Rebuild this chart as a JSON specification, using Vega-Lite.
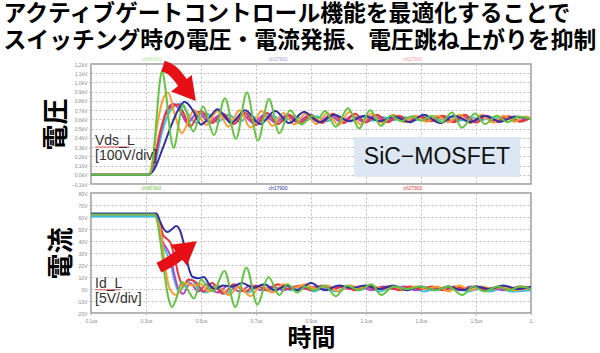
{
"$schema": "https://vega.github.io/schema/vega-lite/v6.json",
"background": "white",
"padding": {"left": 3, "top": 3, "right": 0, "bottom": 0},
"title": {"text": ["アクティブゲートコントロール機能を最適化することで", "スイッチング時の電圧・電流発振、電圧跳ね上がりを抑制"], "anchor": "start", "font": "Noto Sans CJK JP", "fontSize": 22.8, "fontWeight": "bold", "lineHeight": 27, "color": "#000000", "offset": -10, "dx": -39},
"bounds": "flush",
"spacing": 9,
"config": {
  "view": {"stroke": "#9a9a9a", "strokeWidth": 1.5},
  "axis": {"labelFont": "Liberation Sans", "labelFontSize": 5, "labelColor": "#8a8a8a", "tickColor": "#bbbbbb", "tickSize": 2, "gridColor": "#bdbdbd", "gridDash": [2, 2], "gridWidth": 1, "gridOpacity": 1, "domain": false, "labelPadding": 2, "labelOverlap": false, "labelFlush": false, "titleFont": "Noto Sans CJK JP", "titleFontWeight": "bold", "titleColor": "#000000"}
},
"datasets": {
"v": [
{"s":"c","t":0.1,"y":0},{"s":"c","t":0.31,"y":0},{"s":"c","t":0.33,"y":100},{"s":"c","t":0.36,"y":480},{"s":"c","t":0.39,"y":700},{"s":"c","t":0.425,"y":770},{"s":"c","t":0.455,"y":650},{"s":"c","t":0.48,"y":565},{"s":"c","t":0.52,"y":665},{"s":"c","t":0.56,"y":575},{"s":"c","t":0.6,"y":650},{"s":"c","t":0.64,"y":575},{"s":"c","t":0.68,"y":645},{"s":"c","t":0.72,"y":580},{"s":"c","t":0.76,"y":640},{"s":"c","t":0.8,"y":580},{"s":"c","t":0.84,"y":635},{"s":"c","t":0.88,"y":585},{"s":"c","t":0.92,"y":635},{"s":"c","t":0.96,"y":580},{"s":"c","t":1.0,"y":630},{"s":"c","t":1.04,"y":585},{"s":"c","t":1.08,"y":630},{"s":"c","t":1.12,"y":585},{"s":"c","t":1.16,"y":625},{"s":"c","t":1.2,"y":590},{"s":"c","t":1.24,"y":625},{"s":"c","t":1.28,"y":590},{"s":"c","t":1.32,"y":625},{"s":"c","t":1.36,"y":585},{"s":"c","t":1.4,"y":630},{"s":"c","t":1.44,"y":585},{"s":"c","t":1.48,"y":625},{"s":"c","t":1.52,"y":590},{"s":"c","t":1.56,"y":625},{"s":"c","t":1.6,"y":590},{"s":"c","t":1.64,"y":620},{"s":"c","t":1.7,"y":605},
{"s":"m","t":0.1,"y":0},{"s":"m","t":0.31,"y":0},{"s":"m","t":0.328,"y":100},{"s":"m","t":0.352,"y":450},{"s":"m","t":0.375,"y":700},{"s":"m","t":0.4,"y":770},{"s":"m","t":0.425,"y":690},{"s":"m","t":0.45,"y":560},{"s":"m","t":0.49,"y":680},{"s":"m","t":0.53,"y":570},{"s":"m","t":0.57,"y":650},{"s":"m","t":0.61,"y":565},{"s":"m","t":0.65,"y":655},{"s":"m","t":0.69,"y":560},{"s":"m","t":0.73,"y":650},{"s":"m","t":0.77,"y":565},{"s":"m","t":0.81,"y":645},{"s":"m","t":0.85,"y":570},{"s":"m","t":0.89,"y":640},{"s":"m","t":0.93,"y":575},{"s":"m","t":0.97,"y":645},{"s":"m","t":1.01,"y":570},{"s":"m","t":1.05,"y":640},{"s":"m","t":1.09,"y":575},{"s":"m","t":1.13,"y":640},{"s":"m","t":1.17,"y":575},{"s":"m","t":1.21,"y":635},{"s":"m","t":1.25,"y":580},{"s":"m","t":1.29,"y":630},{"s":"m","t":1.33,"y":580},{"s":"m","t":1.37,"y":635},{"s":"m","t":1.41,"y":575},{"s":"m","t":1.45,"y":640},{"s":"m","t":1.49,"y":575},{"s":"m","t":1.53,"y":635},{"s":"m","t":1.57,"y":580},{"s":"m","t":1.61,"y":630},{"s":"m","t":1.65,"y":585},{"s":"m","t":1.7,"y":615},
{"s":"r","t":0.1,"y":0},{"s":"r","t":0.31,"y":0},{"s":"r","t":0.325,"y":100},{"s":"r","t":0.35,"y":450},{"s":"r","t":0.375,"y":680},{"s":"r","t":0.395,"y":745},{"s":"r","t":0.415,"y":760},{"s":"r","t":0.435,"y":680},{"s":"r","t":0.46,"y":520},{"s":"r","t":0.5,"y":690},{"s":"r","t":0.54,"y":560},{"s":"r","t":0.58,"y":660},{"s":"r","t":0.62,"y":550},{"s":"r","t":0.66,"y":670},{"s":"r","t":0.7,"y":540},{"s":"r","t":0.74,"y":670},{"s":"r","t":0.78,"y":550},{"s":"r","t":0.82,"y":650},{"s":"r","t":0.86,"y":560},{"s":"r","t":0.9,"y":650},{"s":"r","t":0.94,"y":560},{"s":"r","t":0.98,"y":660},{"s":"r","t":1.02,"y":560},{"s":"r","t":1.06,"y":660},{"s":"r","t":1.1,"y":565},{"s":"r","t":1.14,"y":650},{"s":"r","t":1.18,"y":570},{"s":"r","t":1.22,"y":640},{"s":"r","t":1.26,"y":575},{"s":"r","t":1.3,"y":630},{"s":"r","t":1.34,"y":580},{"s":"r","t":1.38,"y":640},{"s":"r","t":1.42,"y":570},{"s":"r","t":1.46,"y":650},{"s":"r","t":1.5,"y":565},{"s":"r","t":1.54,"y":640},{"s":"r","t":1.58,"y":570},{"s":"r","t":1.62,"y":635},{"s":"r","t":1.66,"y":575},{"s":"r","t":1.7,"y":620},
{"s":"o","t":0.1,"y":0},{"s":"o","t":0.31,"y":0},{"s":"o","t":0.322,"y":120},{"s":"o","t":0.34,"y":520},{"s":"o","t":0.36,"y":800},{"s":"o","t":0.38,"y":890},{"s":"o","t":0.405,"y":650},{"s":"o","t":0.43,"y":450},{"s":"o","t":0.475,"y":700},{"s":"o","t":0.52,"y":540},{"s":"o","t":0.56,"y":690},{"s":"o","t":0.6,"y":520},{"s":"o","t":0.64,"y":700},{"s":"o","t":0.68,"y":510},{"s":"o","t":0.72,"y":690},{"s":"o","t":0.76,"y":530},{"s":"o","t":0.8,"y":670},{"s":"o","t":0.84,"y":545},{"s":"o","t":0.88,"y":660},{"s":"o","t":0.92,"y":550},{"s":"o","t":0.96,"y":670},{"s":"o","t":1.0,"y":540},{"s":"o","t":1.04,"y":680},{"s":"o","t":1.08,"y":545},{"s":"o","t":1.12,"y":660},{"s":"o","t":1.16,"y":560},{"s":"o","t":1.2,"y":650},{"s":"o","t":1.24,"y":570},{"s":"o","t":1.28,"y":640},{"s":"o","t":1.32,"y":575},{"s":"o","t":1.36,"y":640},{"s":"o","t":1.4,"y":570},{"s":"o","t":1.44,"y":650},{"s":"o","t":1.48,"y":560},{"s":"o","t":1.52,"y":650},{"s":"o","t":1.56,"y":565},{"s":"o","t":1.6,"y":640},{"s":"o","t":1.64,"y":575},{"s":"o","t":1.68,"y":630},{"s":"o","t":1.7,"y":610},
{"s":"b","t":0.1,"y":0},{"s":"b","t":0.31,"y":0},{"s":"b","t":0.33,"y":60},{"s":"b","t":0.36,"y":280},{"s":"b","t":0.39,"y":520},{"s":"b","t":0.415,"y":690},{"s":"b","t":0.44,"y":790},{"s":"b","t":0.47,"y":700},{"s":"b","t":0.5,"y":545},{"s":"b","t":0.53,"y":620},{"s":"b","t":0.56,"y":710},{"s":"b","t":0.585,"y":640},{"s":"b","t":0.61,"y":560},{"s":"b","t":0.66,"y":700},{"s":"b","t":0.715,"y":550},{"s":"b","t":0.77,"y":690},{"s":"b","t":0.82,"y":560},{"s":"b","t":0.875,"y":680},{"s":"b","t":0.93,"y":570},{"s":"b","t":0.985,"y":650},{"s":"b","t":1.04,"y":580},{"s":"b","t":1.095,"y":640},{"s":"b","t":1.15,"y":580},{"s":"b","t":1.2,"y":630},{"s":"b","t":1.26,"y":570},{"s":"b","t":1.31,"y":650},{"s":"b","t":1.37,"y":560},{"s":"b","t":1.42,"y":640},{"s":"b","t":1.48,"y":570},{"s":"b","t":1.53,"y":640},{"s":"b","t":1.59,"y":575},{"s":"b","t":1.64,"y":630},{"s":"b","t":1.7,"y":600},
{"s":"g","t":0.1,"y":0},{"s":"g","t":0.315,"y":0},{"s":"g","t":0.325,"y":150},{"s":"g","t":0.338,"y":600},{"s":"g","t":0.35,"y":1000},{"s":"g","t":0.358,"y":1130},{"s":"g","t":0.372,"y":900},{"s":"g","t":0.388,"y":450},{"s":"g","t":0.4,"y":290},{"s":"g","t":0.435,"y":760},{"s":"g","t":0.472,"y":470},{"s":"g","t":0.508,"y":740},{"s":"g","t":0.547,"y":430},{"s":"g","t":0.587,"y":830},{"s":"g","t":0.627,"y":390},{"s":"g","t":0.667,"y":890},{"s":"g","t":0.707,"y":370},{"s":"g","t":0.747,"y":820},{"s":"g","t":0.785,"y":450},{"s":"g","t":0.824,"y":700},{"s":"g","t":0.865,"y":545},{"s":"g","t":0.905,"y":640},{"s":"g","t":0.925,"y":610},{"s":"g","t":0.951,"y":690},{"s":"g","t":0.99,"y":520},{"s":"g","t":1.035,"y":720},{"s":"g","t":1.075,"y":500},{"s":"g","t":1.115,"y":700},{"s":"g","t":1.155,"y":530},{"s":"g","t":1.19,"y":640},{"s":"g","t":1.228,"y":580},{"s":"g","t":1.265,"y":635},{"s":"g","t":1.3,"y":585},{"s":"g","t":1.34,"y":640},{"s":"g","t":1.375,"y":570},{"s":"g","t":1.413,"y":675},{"s":"g","t":1.449,"y":510},{"s":"g","t":1.496,"y":665},{"s":"g","t":1.533,"y":550},{"s":"g","t":1.575,"y":640},{"s":"g","t":1.615,"y":570},{"s":"g","t":1.655,"y":630},{"s":"g","t":1.7,"y":600}
],
"i": [
{"s":"c","t":0.1,"y":60.5},{"s":"c","t":0.336,"y":60.5},{"s":"c","t":0.348,"y":52},{"s":"c","t":0.36,"y":38},{"s":"c","t":0.375,"y":30},{"s":"c","t":0.39,"y":20},{"s":"c","t":0.405,"y":6},{"s":"c","t":0.42,"y":-2},{"s":"c","t":0.44,"y":3},{"s":"c","t":0.465,"y":8},{"s":"c","t":0.49,"y":0},{"s":"c","t":0.52,"y":-3},{"s":"c","t":0.55,"y":3},{"s":"c","t":0.59,"y":-4},{"s":"c","t":0.63,"y":2},{"s":"c","t":0.67,"y":-3},{"s":"c","t":0.71,"y":2},{"s":"c","t":0.75,"y":-2},{"s":"c","t":0.79,"y":1},{"s":"c","t":0.83,"y":-1},{"s":"c","t":0.87,"y":2},{"s":"c","t":0.91,"y":-2},{"s":"c","t":0.95,"y":1},{"s":"c","t":0.99,"y":-2},{"s":"c","t":1.03,"y":1},{"s":"c","t":1.07,"y":-1},{"s":"c","t":1.11,"y":1},{"s":"c","t":1.15,"y":-2},{"s":"c","t":1.19,"y":1},{"s":"c","t":1.23,"y":-1},{"s":"c","t":1.27,"y":1},{"s":"c","t":1.31,"y":-2},{"s":"c","t":1.35,"y":0},{"s":"c","t":1.39,"y":-1},{"s":"c","t":1.43,"y":1},{"s":"c","t":1.47,"y":-2},{"s":"c","t":1.51,"y":0},{"s":"c","t":1.55,"y":-2},{"s":"c","t":1.59,"y":0},{"s":"c","t":1.63,"y":-2},{"s":"c","t":1.7,"y":-1},
{"s":"m","t":0.1,"y":62},{"s":"m","t":0.336,"y":62},{"s":"m","t":0.348,"y":52},{"s":"m","t":0.36,"y":40},{"s":"m","t":0.372,"y":35},{"s":"m","t":0.388,"y":28},{"s":"m","t":0.403,"y":12},{"s":"m","t":0.418,"y":0},{"s":"m","t":0.435,"y":-4},{"s":"m","t":0.46,"y":5},{"s":"m","t":0.49,"y":-2},{"s":"m","t":0.52,"y":4},{"s":"m","t":0.56,"y":-3},{"s":"m","t":0.6,"y":3},{"s":"m","t":0.64,"y":-2},{"s":"m","t":0.68,"y":3},{"s":"m","t":0.72,"y":-1},{"s":"m","t":0.76,"y":2},{"s":"m","t":0.8,"y":-1},{"s":"m","t":0.84,"y":2},{"s":"m","t":0.88,"y":0},{"s":"m","t":0.92,"y":2},{"s":"m","t":0.96,"y":-1},{"s":"m","t":1.0,"y":2},{"s":"m","t":1.04,"y":0},{"s":"m","t":1.08,"y":2},{"s":"m","t":1.12,"y":-1},{"s":"m","t":1.16,"y":2},{"s":"m","t":1.2,"y":0},{"s":"m","t":1.24,"y":2},{"s":"m","t":1.28,"y":-1},{"s":"m","t":1.32,"y":1},{"s":"m","t":1.36,"y":0},{"s":"m","t":1.4,"y":2},{"s":"m","t":1.44,"y":-1},{"s":"m","t":1.48,"y":2},{"s":"m","t":1.52,"y":0},{"s":"m","t":1.56,"y":1},{"s":"m","t":1.6,"y":-1},{"s":"m","t":1.64,"y":1},{"s":"m","t":1.7,"y":0},
{"s":"r","t":0.1,"y":62.5},{"s":"r","t":0.337,"y":62.5},{"s":"r","t":0.35,"y":55},{"s":"r","t":0.362,"y":45},{"s":"r","t":0.375,"y":42},{"s":"r","t":0.39,"y":38},{"s":"r","t":0.405,"y":25},{"s":"r","t":0.42,"y":10},{"s":"r","t":0.435,"y":3},{"s":"r","t":0.455,"y":8},{"s":"r","t":0.48,"y":6},{"s":"r","t":0.51,"y":-2},{"s":"r","t":0.54,"y":5},{"s":"r","t":0.58,"y":-4},{"s":"r","t":0.62,"y":4},{"s":"r","t":0.66,"y":-2},{"s":"r","t":0.7,"y":3},{"s":"r","t":0.74,"y":-1},{"s":"r","t":0.78,"y":4},{"s":"r","t":0.82,"y":0},{"s":"r","t":0.86,"y":3},{"s":"r","t":0.9,"y":-1},{"s":"r","t":0.94,"y":3},{"s":"r","t":0.98,"y":0},{"s":"r","t":1.02,"y":2},{"s":"r","t":1.06,"y":-1},{"s":"r","t":1.1,"y":2},{"s":"r","t":1.14,"y":0},{"s":"r","t":1.18,"y":2},{"s":"r","t":1.22,"y":-1},{"s":"r","t":1.26,"y":2},{"s":"r","t":1.3,"y":0},{"s":"r","t":1.34,"y":2},{"s":"r","t":1.38,"y":-1},{"s":"r","t":1.42,"y":2},{"s":"r","t":1.46,"y":0},{"s":"r","t":1.5,"y":2},{"s":"r","t":1.54,"y":-1},{"s":"r","t":1.58,"y":2},{"s":"r","t":1.62,"y":0},{"s":"r","t":1.66,"y":2},{"s":"r","t":1.7,"y":1},
{"s":"o","t":0.1,"y":62.5},{"s":"o","t":0.335,"y":62.5},{"s":"o","t":0.345,"y":58},{"s":"o","t":0.358,"y":40},{"s":"o","t":0.37,"y":18},{"s":"o","t":0.382,"y":3},{"s":"o","t":0.395,"y":-3},{"s":"o","t":0.41,"y":-5},{"s":"o","t":0.44,"y":5},{"s":"o","t":0.47,"y":3},{"s":"o","t":0.5,"y":4},{"s":"o","t":0.53,"y":-2},{"s":"o","t":0.56,"y":3},{"s":"o","t":0.6,"y":-5},{"s":"o","t":0.64,"y":2},{"s":"o","t":0.68,"y":-6},{"s":"o","t":0.72,"y":3},{"s":"o","t":0.76,"y":-3},{"s":"o","t":0.8,"y":4},{"s":"o","t":0.84,"y":1},{"s":"o","t":0.88,"y":4},{"s":"o","t":0.92,"y":0},{"s":"o","t":0.96,"y":3},{"s":"o","t":1.0,"y":-2},{"s":"o","t":1.04,"y":3},{"s":"o","t":1.08,"y":1},{"s":"o","t":1.12,"y":3},{"s":"o","t":1.16,"y":0},{"s":"o","t":1.2,"y":2},{"s":"o","t":1.24,"y":-1},{"s":"o","t":1.28,"y":2},{"s":"o","t":1.32,"y":0},{"s":"o","t":1.36,"y":2},{"s":"o","t":1.4,"y":-2},{"s":"o","t":1.44,"y":3},{"s":"o","t":1.48,"y":-1},{"s":"o","t":1.52,"y":2},{"s":"o","t":1.56,"y":0},{"s":"o","t":1.6,"y":2},{"s":"o","t":1.64,"y":-1},{"s":"o","t":1.7,"y":1},
{"s":"b","t":0.1,"y":63},{"s":"b","t":0.338,"y":63},{"s":"b","t":0.35,"y":57},{"s":"b","t":0.362,"y":51},{"s":"b","t":0.378,"y":47.5},{"s":"b","t":0.395,"y":50},{"s":"b","t":0.41,"y":52.5},{"s":"b","t":0.425,"y":48},{"s":"b","t":0.44,"y":35},{"s":"b","t":0.455,"y":18},{"s":"b","t":0.47,"y":10},{"s":"b","t":0.49,"y":9},{"s":"b","t":0.51,"y":10},{"s":"b","t":0.53,"y":4},{"s":"b","t":0.55,"y":0},{"s":"b","t":0.58,"y":3},{"s":"b","t":0.61,"y":2},{"s":"b","t":0.65,"y":5},{"s":"b","t":0.69,"y":1},{"s":"b","t":0.73,"y":4},{"s":"b","t":0.77,"y":-1},{"s":"b","t":0.81,"y":3},{"s":"b","t":0.85,"y":-1},{"s":"b","t":0.9,"y":5},{"s":"b","t":0.95,"y":-1},{"s":"b","t":1.0,"y":3},{"s":"b","t":1.05,"y":1},{"s":"b","t":1.1,"y":3},{"s":"b","t":1.15,"y":0},{"s":"b","t":1.2,"y":3},{"s":"b","t":1.25,"y":-1},{"s":"b","t":1.3,"y":2},{"s":"b","t":1.35,"y":-1},{"s":"b","t":1.4,"y":2},{"s":"b","t":1.45,"y":-1},{"s":"b","t":1.5,"y":2},{"s":"b","t":1.55,"y":0},{"s":"b","t":1.6,"y":3},{"s":"b","t":1.65,"y":0},{"s":"b","t":1.7,"y":2},
{"s":"g","t":0.1,"y":62},{"s":"g","t":0.33,"y":62},{"s":"g","t":0.342,"y":55},{"s":"g","t":0.355,"y":35},{"s":"g","t":0.37,"y":8},{"s":"g","t":0.382,"y":-8},{"s":"g","t":0.395,"y":-15},{"s":"g","t":0.41,"y":-8},{"s":"g","t":0.43,"y":6},{"s":"g","t":0.45,"y":0},{"s":"g","t":0.475,"y":-8},{"s":"g","t":0.5,"y":8},{"s":"g","t":0.52,"y":3},{"s":"g","t":0.545,"y":-2},{"s":"g","t":0.585,"y":15},{"s":"g","t":0.625,"y":-15},{"s":"g","t":0.665,"y":18},{"s":"g","t":0.705,"y":-13},{"s":"g","t":0.745,"y":10},{"s":"g","t":0.785,"y":-5},{"s":"g","t":0.815,"y":4},{"s":"g","t":0.85,"y":-3},{"s":"g","t":0.88,"y":2},{"s":"g","t":0.91,"y":-1},{"s":"g","t":0.95,"y":3},{"s":"g","t":0.99,"y":-6},{"s":"g","t":1.03,"y":3},{"s":"g","t":1.075,"y":-1},{"s":"g","t":1.12,"y":4},{"s":"g","t":1.155,"y":-5},{"s":"g","t":1.2,"y":2},{"s":"g","t":1.25,"y":0},{"s":"g","t":1.3,"y":2},{"s":"g","t":1.35,"y":-1},{"s":"g","t":1.4,"y":2},{"s":"g","t":1.45,"y":-5},{"s":"g","t":1.49,"y":2},{"s":"g","t":1.53,"y":-2},{"s":"g","t":1.58,"y":2},{"s":"g","t":1.62,"y":-1},{"s":"g","t":1.66,"y":2},{"s":"g","t":1.7,"y":0}
]
},
"vconcat": [
{
  "width": 440, "height": 120,
  "layer": [
    {"data": {"name": "v"},
     "mark": {"type": "line", "interpolate": "monotone", "strokeWidth": 2, "clip": true},
     "encoding": {
       "x": {"field": "t", "type": "quantitative", "scale": {"domain": [0.1, 1.7], "nice": false, "zero": false}, "axis": {"values": [0.1,0.3,0.5,0.7,0.9,1.1,1.3,1.5,1.7], "labels": false, "ticks": false, "title": null, "grid": true}},
       "y": {"field": "y", "type": "quantitative", "scale": {"domain": [-100, 1200], "nice": false, "zero": false}, "axis": {"tickCount": 13, "labelExpr": "format(datum.value/1000,'.1f')+'kV'", "labelOverlap": false, "grid": true, "title": "電圧", "titleFontSize": 26, "titlePadding": 2}},
       "color": {"field": "s", "type": "nominal", "scale": {"domain": ["c","m","r","o","b","g"], "range": ["#3fbfe0","#b544c8","#e8343a","#ff9a2e","#2f2fa8","#62c440"]}, "legend": null}
     }},
    {"data": {"values": [{"t": 1.056, "t2": 1.66, "y": 409, "y2": -24}]},
     "mark": {"type": "rect", "color": "#dce7f3"},
     "encoding": {"x": {"field": "t", "type": "quantitative"}, "x2": {"field": "t2"}, "y": {"field": "y", "type": "quantitative"}, "y2": {"field": "y2"}}},
    {"data": {"values": [{"t": 1.358, "y": 190, "label": "SiC−MOSFET"}]},
     "mark": {"type": "text", "font": "Liberation Sans", "fontSize": 23, "color": "#111111", "baseline": "middle", "align": "center"},
     "encoding": {"x": {"field": "t", "type": "quantitative"}, "y": {"field": "y", "type": "quantitative"}, "text": {"field": "label"}}},
    {"data": {"values": [{"t": 0.1145, "t2": 0.242, "y": 301}]},
     "mark": {"type": "rule", "color": "#e8343a", "strokeWidth": 1, "opacity": 0.8},
     "encoding": {"x": {"field": "t", "type": "quantitative"}, "x2": {"field": "t2"}, "y": {"field": "y", "type": "quantitative"}}},
    {"data": {"values": [{"t": 0.1145, "y": 323, "label": "Vds_L"}, {"t": 0.1145, "y": 160, "label": "[100V/div]"}]},
     "mark": {"type": "text", "font": "Liberation Sans", "fontSize": 14, "color": "#333333", "baseline": "alphabetic", "align": "left"},
     "encoding": {"x": {"field": "t", "type": "quantitative"}, "y": {"field": "y", "type": "quantitative"}, "text": {"field": "label"}}},
    {"data": {"values": [{"t": 0.362, "y": 1178}, {"t": 0.395, "y": 1130}, {"t": 0.42, "y": 1050}, {"t": 0.44, "y": 965}]},
     "mark": {"type": "line", "color": "#e60f16", "strokeWidth": 11, "interpolate": "monotone", "strokeCap": "butt"},
     "encoding": {"x": {"field": "t", "type": "quantitative"}, "y": {"field": "y", "type": "quantitative"}}},
    {"data": {"values": [{"t": 0.455, "y": 895}]},
     "mark": {"type": "point", "shape": "triangle-up", "filled": true, "color": "#e60f16", "opacity": 1, "size": 700, "angle": 141},
     "encoding": {"x": {"field": "t", "type": "quantitative"}, "y": {"field": "y", "type": "quantitative"}}},
    {"data": {"values": [{"t": 0.32, "y": 1255, "label": "ch8F900", "c": "g"}, {"t": 0.78, "y": 1255, "label": "ch17900", "c": "b"}, {"t": 1.27, "y": 1255, "label": "ch27900", "c": "r"}]},
     "mark": {"type": "text", "font": "Liberation Sans", "fontSize": 5, "opacity": 0.5, "clip": false},
     "encoding": {"x": {"field": "t", "type": "quantitative"}, "y": {"field": "y", "type": "quantitative"}, "text": {"field": "label"}, "color": {"field": "c", "type": "nominal", "legend": null}}}
  ]
},
{
  "width": 440, "height": 120,
  "layer": [
    {"data": {"name": "i"},
     "mark": {"type": "line", "interpolate": "monotone", "strokeWidth": 2, "clip": true},
     "encoding": {
       "x": {"field": "t", "type": "quantitative", "scale": {"domain": [0.1, 1.7], "nice": false, "zero": false}, "axis": {"values": [0.1,0.3,0.5,0.7,0.9,1.1,1.3,1.5,1.7], "labelExpr": "datum.value > 1.65 ? '1.' : format(datum.value,'.1f')+'us'", "labelOverlap": false, "title": "時間", "titleFontSize": 24, "titlePadding": 3, "labelPadding": 3, "grid": true}},
       "y": {"field": "y", "type": "quantitative", "scale": {"domain": [-20, 80], "nice": false, "zero": false}, "axis": {"tickCount": 10, "labelExpr": "datum.value+'V'", "labelOverlap": false, "grid": true, "title": "電流", "titleFontSize": 26, "titlePadding": 2}},
       "color": {"field": "s", "type": "nominal", "scale": {"domain": ["c","m","r","o","b","g"], "range": ["#3fbfe0","#b544c8","#e8343a","#ff9a2e","#2f2fa8","#62c440"]}, "legend": null}
     }},
    {"data": {"values": [{"t": 0.1145, "t2": 0.2055, "y": -0.7}]},
     "mark": {"type": "rule", "color": "#e8343a", "strokeWidth": 1, "opacity": 0.8},
     "encoding": {"x": {"field": "t", "type": "quantitative"}, "x2": {"field": "t2"}, "y": {"field": "y", "type": "quantitative"}}},
    {"data": {"values": [{"t": 0.1145, "y": 1, "label": "Id_L"}, {"t": 0.1145, "y": -11.6, "label": "[5V/div]"}]},
     "mark": {"type": "text", "font": "Liberation Sans", "fontSize": 14, "color": "#333333", "baseline": "alphabetic", "align": "left"},
     "encoding": {"x": {"field": "t", "type": "quantitative"}, "y": {"field": "y", "type": "quantitative"}, "text": {"field": "label"}}},
    {"data": {"values": [{"t": 0.347, "y": 17.8}, {"t": 0.376, "y": 21.2}, {"t": 0.405, "y": 25.4}, {"t": 0.43, "y": 30}]},
     "mark": {"type": "line", "color": "#e60f16", "strokeWidth": 11, "interpolate": "monotone", "strokeCap": "butt"},
     "encoding": {"x": {"field": "t", "type": "quantitative"}, "y": {"field": "y", "type": "quantitative"}}},
    {"data": {"values": [{"t": 0.452, "y": 34}]},
     "mark": {"type": "point", "shape": "triangle-up", "filled": true, "color": "#e60f16", "opacity": 1, "size": 700, "angle": 52},
     "encoding": {"x": {"field": "t", "type": "quantitative"}, "y": {"field": "y", "type": "quantitative"}}},
    {"data": {"values": [{"t": 0.32, "y": 84, "label": "ch8F900", "c": "g"}, {"t": 0.78, "y": 84, "label": "ch17900", "c": "b"}, {"t": 1.27, "y": 84, "label": "ch27900", "c": "r"}]},
     "mark": {"type": "text", "font": "Liberation Sans", "fontSize": 5, "clip": false},
     "encoding": {"x": {"field": "t", "type": "quantitative"}, "y": {"field": "y", "type": "quantitative"}, "text": {"field": "label"}, "color": {"field": "c", "type": "nominal", "scale": {"domain": ["g","b","r"], "range": ["#62c440","#2f2fa8","#e8343a"]}, "legend": null}}}
  ]
}
]
}
